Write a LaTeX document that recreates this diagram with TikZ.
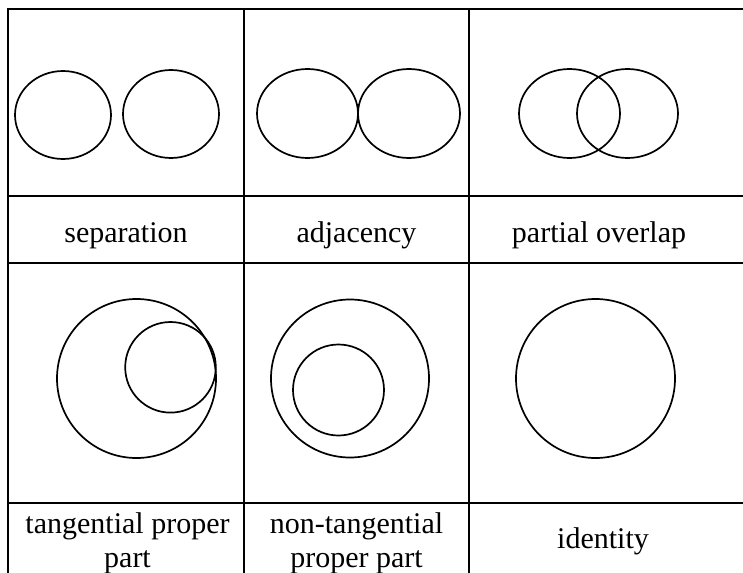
\documentclass[tikz,border=0pt]{standalone}
\usepackage{fontspec}
\setmainfont{Liberation Serif}
\begin{document}
\begin{tikzpicture}[x=1pt,y=-1pt,
  grid/.style={line width=2.4pt,line cap=rect},
  region/.style={line width=1.7pt},
  lbl/.style={anchor=base,inner sep=0pt,font=\fontsize{30}{34}\selectfont,align=center}]
\useasboundingbox (0,0) rectangle (743,572);
% table lines
\draw[grid] (8,9) -- (743,9);
\draw[grid] (8,196) -- (743,196);
\draw[grid] (8,263) -- (743,263);
\draw[grid] (8,503) -- (743,503);
\draw[grid] (8,9) -- (8,572);
\draw[grid] (244,9) -- (244,572);
\draw[grid] (469,9) -- (469,572);
% separation
\draw[region] (63,115) ellipse [x radius=48,y radius=44];
\draw[region] (171,114) ellipse [x radius=48,y radius=44];
% adjacency
\draw[region] (307.5,113.5) ellipse [x radius=50.5,y radius=44.5];
\draw[region] (409,113.5) ellipse [x radius=51,y radius=44.5];
% partial overlap
\draw[region] (569.5,113.5) ellipse [x radius=50.5,y radius=44.5];
\draw[region] (627.5,113.5) ellipse [x radius=50.5,y radius=44.5];
% tangential proper part
\draw[region] (136.5,378.5) circle [radius=79.5];
\draw[region] (170.5,367.3) circle [radius=45.3];
% non-tangential proper part
\draw[region] (350,378.5) circle [radius=79];
\draw[region] (338.5,390) circle [radius=45.5];
% identity
\draw[region] (595.5,378.5) circle [radius=79.5];
% labels
\node[lbl] (sep) at (126,242) {separation};
\node[lbl] (adj) at (356.5,242) {adjacency};
\node[lbl] (po) at (599,242) {partial overlap};
\node[lbl] (tpp1) at (127.5,533) {tangential proper};
\node[lbl] (tpp2) at (127.5,567) {part};
\node[lbl] (ntpp1) at (356.5,533) {non-tangential};
\node[lbl] (ntpp2) at (356.5,567) {proper part};
\node[lbl] (id) at (603,548) {identity};
\end{tikzpicture}
\end{document}
